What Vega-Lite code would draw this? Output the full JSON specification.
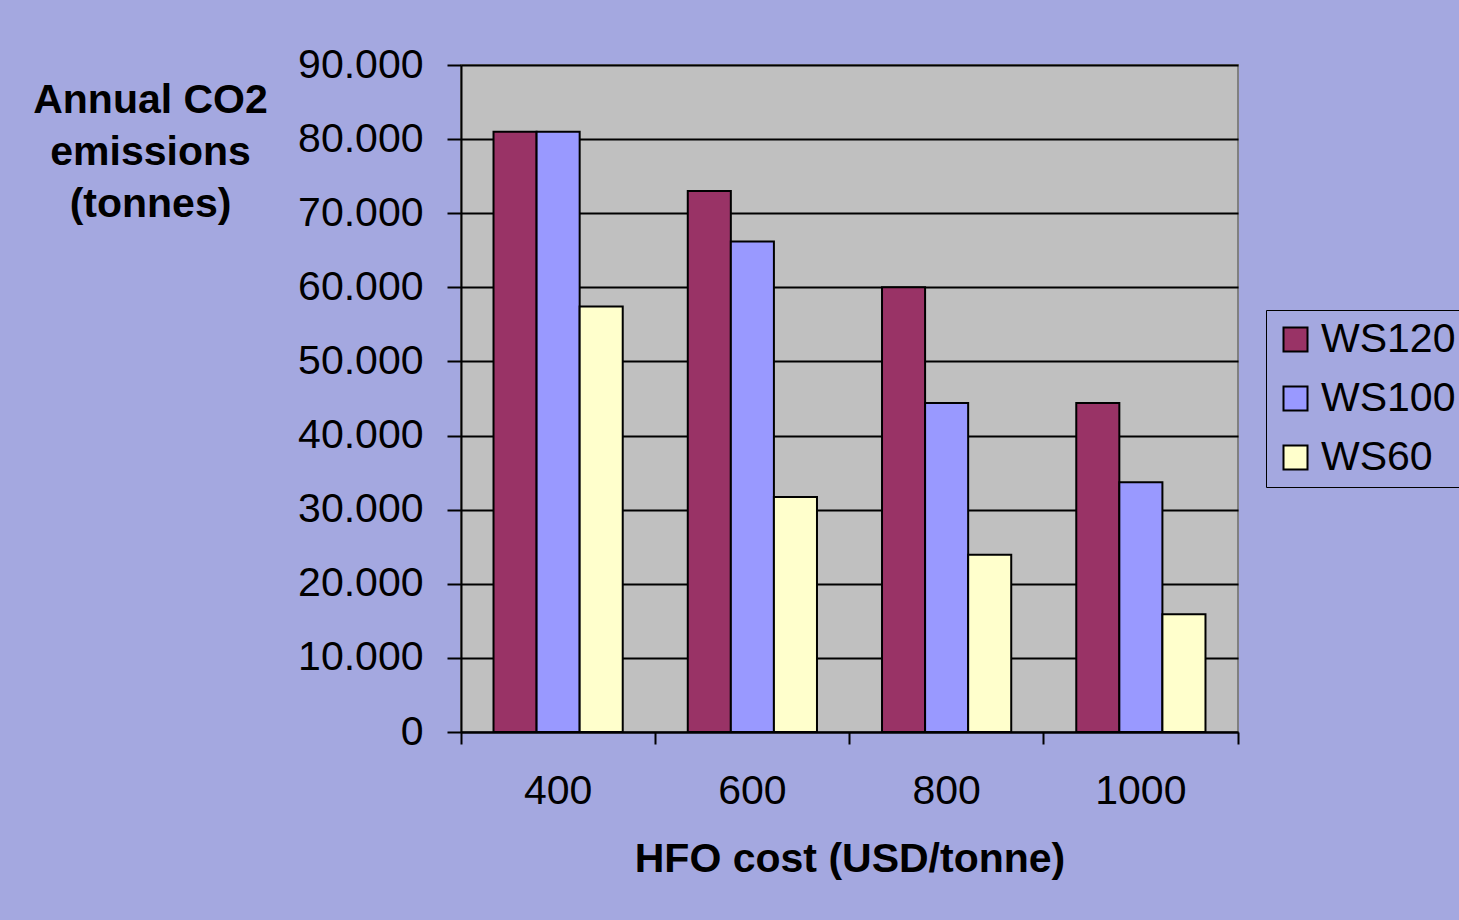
{
  "$schema": "https://vega.github.io/schema/vega-lite/v6.json",
  "width": 777,
  "height": 667,
  "autosize": {"type": "none"},
  "padding": {"left": 461, "top": 65, "right": 221, "bottom": 188},
  "background": "#A4A8E0",
  "config": {
    "font": "Liberation Sans",
    "view": {"fill": "#C0C0C0", "stroke": "#808080", "strokeWidth": 2}
  },
  "data": {
    "values": [
      {"cost": "400", "series": "WS120", "co2": 81000},
      {"cost": "400", "series": "WS100", "co2": 81000},
      {"cost": "400", "series": "WS60", "co2": 57400},
      {"cost": "600", "series": "WS120", "co2": 73000},
      {"cost": "600", "series": "WS100", "co2": 66200},
      {"cost": "600", "series": "WS60", "co2": 31700},
      {"cost": "800", "series": "WS120", "co2": 60000},
      {"cost": "800", "series": "WS100", "co2": 44400},
      {"cost": "800", "series": "WS60", "co2": 23900},
      {"cost": "1000", "series": "WS120", "co2": 44400},
      {"cost": "1000", "series": "WS100", "co2": 33700},
      {"cost": "1000", "series": "WS60", "co2": 15900}
    ]
  },
  "mark": {"type": "bar", "stroke": "#000000", "strokeWidth": 2},
  "encoding": {
    "x": {
      "field": "cost",
      "type": "nominal",
      "sort": ["400", "600", "800", "1000"],
      "scale": {"paddingInner": 0, "paddingOuter": 0},
      "axis": {
        "title": "HFO cost (USD/tonne)",
        "titleFont": "Liberation Sans",
        "titleFontSize": 41,
        "titleFontWeight": "bold",
        "titleColor": "#000000",
        "titlePadding": 28,
        "labelFontSize": 41,
        "labelColor": "#000000",
        "labelAngle": 0,
        "labelPadding": 27,
        "bandPosition": 1,
        "tickExtra": true,
        "tickSize": 12,
        "tickColor": "#000000",
        "tickWidth": 2,
        "domainColor": "#000000",
        "domainWidth": 2,
        "grid": false
      }
    },
    "xOffset": {
      "field": "series",
      "type": "nominal",
      "sort": ["WS120", "WS100", "WS60"],
      "scale": {"paddingInner": 0, "paddingOuter": 0.755}
    },
    "y": {
      "field": "co2",
      "type": "quantitative",
      "stack": null,
      "scale": {"domain": [0, 90000], "nice": false},
      "axis": {
        "values": [0, 10000, 20000, 30000, 40000, 50000, 60000, 70000, 80000, 90000],
        "labelExpr": "replace(format(datum.value, ','), ',', '.')",
        "labelFontSize": 41,
        "labelColor": "#000000",
        "labelPadding": 24,
        "tickSize": 14,
        "tickColor": "#000000",
        "tickWidth": 2,
        "domainColor": "#000000",
        "domainWidth": 2,
        "grid": true,
        "gridColor": "#000000",
        "gridWidth": 2,
        "title": ["Annual CO2", "emissions", "(tonnes)"],
        "titleFontSize": 41,
        "titleFontWeight": "bold",
        "titleColor": "#000000",
        "titleAngle": 0,
        "titleAlign": "center",
        "titleBaseline": "alphabetic",
        "titleX": -311,
        "titleY": 47,
        "titleLineHeight": 52
      }
    },
    "color": {
      "field": "series",
      "type": "nominal",
      "scale": {
        "domain": ["WS120", "WS100", "WS60"],
        "range": ["#993366", "#9999FF", "#FFFFCC"]
      },
      "legend": {
        "title": null,
        "orient": "none",
        "legendX": 805,
        "legendY": 245,
        "fillColor": "#A4A8E0",
        "strokeColor": "#000000",
        "padding": 9,
        "symbolType": "square",
        "symbolSize": 576,
        "symbolStrokeColor": "#000000",
        "symbolStrokeWidth": 2,
        "labelFontSize": 41,
        "labelColor": "#000000",
        "labelOffset": 5,
        "rowPadding": 17,
        "labelLimit": 300
      }
    }
  }
}
